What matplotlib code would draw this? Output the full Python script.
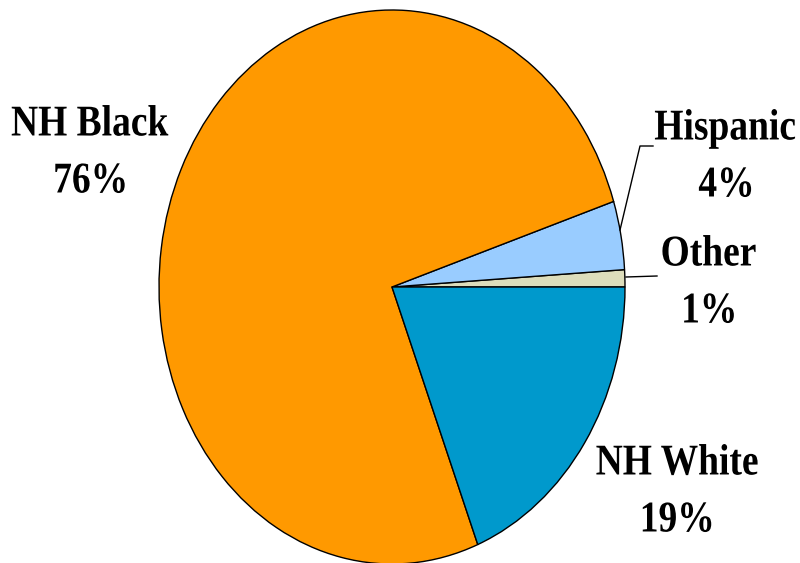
import matplotlib.pyplot as plt
from matplotlib.textpath import TextPath
from matplotlib.patches import PathPatch
from matplotlib.font_manager import FontProperties
from matplotlib.transforms import Affine2D

# Data
labels = ['Other', 'Hispanic', 'NH Black', 'NH White']
values = [1, 4, 76, 19]
colors = ['#DDDDBB', '#99CCFF', '#FF9900', '#0099CC']

W, H = 800, 563
fig = plt.figure(figsize=(W / 100, H / 100), dpi=100)

# pie axes, stretched so the pie becomes an ellipse
cx, cy, rx, ry = 392, 287, 233, 277
ax = fig.add_axes([(cx - rx) / W, (H - cy - ry) / H, 2 * rx / W, 2 * ry / H])
ax.pie(values, colors=colors, startangle=0, counterclock=True, radius=1,
       wedgeprops=dict(edgecolor='black', linewidth=1.0))
ax.set_xlim(-1, 1)
ax.set_ylim(-1, 1)
ax.set_aspect('auto')
ax.axis('off')

# overlay for labels in pixel coords
ov = fig.add_axes([0, 0, 1, 1], facecolor='none')
ov.set_xlim(0, W)
ov.set_ylim(H, 0)
ov.axis('off')

fp = FontProperties(family='Liberation Serif', weight='bold')


def tall_text(x, y, s, size=37.5, stretch=1.17):
    # text as a path, stretched vertically like the original
    tp = TextPath((0, 0), s, size=size, prop=fp)
    bb = tp.get_extents()
    # center on the cap height rather than the full bbox
    mx = (bb.x0 + bb.x1) / 2
    my = size * 0.33
    tr = Affine2D().translate(-mx, -my).scale(1, -stretch).translate(x, y)
    ov.add_patch(PathPatch(tr.transform_path(tp), color='black', lw=0))


label_pos = {
    'NH Black': (90, 121),
    'Hispanic': (725, 125),
    'Other': (709, 251),
    'NH White': (677, 460),
}
for lab, v in zip(labels, values):
    x, y = label_pos[lab]
    tall_text(x, y, lab)
    tall_text(x, y + 57, f'{v}%')

# leader lines
ov.plot([620, 640, 653], [230, 146, 146], color='black', lw=1)
ov.plot([626, 657], [277, 276], color='black', lw=1)

fig.savefig('out.png', dpi=100)
